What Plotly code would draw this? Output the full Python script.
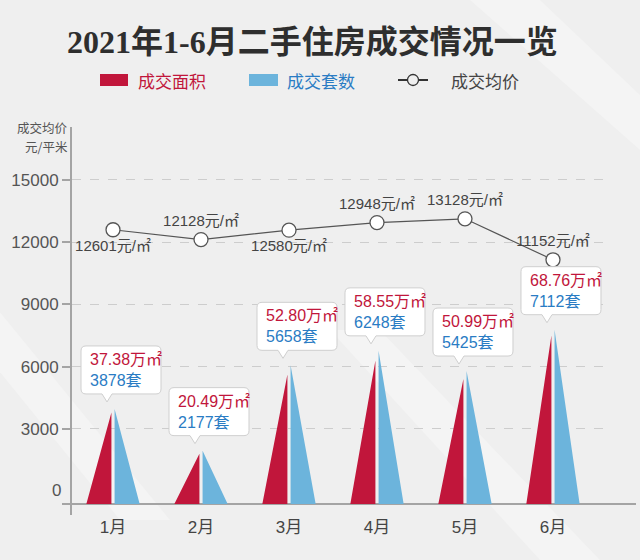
import plotly.graph_objects as go

# ---------------- data ----------------
months = ["1月", "2月", "3月", "4月", "5月", "6月"]
area = [37.38, 20.49, 52.80, 58.55, 50.99, 68.76]        # 成交面积 (万㎡)
units = [3878, 2177, 5658, 6248, 5425, 7112]             # 成交套数 (套)
price = [12601, 12128, 12580, 12948, 13128, 11152]       # 成交均价 (元/㎡)
price_text_pos = ["bottom center", "top center", "bottom center",
                  "top center", "top center", "top center"]
price_ticks = [3000, 6000, 9000, 12000, 15000]
series_names = ["成交面积", "成交套数", "成交均价"]
y_title_lines = ["成交均价", "元/平米"]

# ---------------- style ----------------
RED = "#c1163b"
BLUE = "#6cb4dc"
BLUE_TXT = "#2a7cc4"
GRAY_AX = "#a4a4a4"
LINE_C = "#555555"
BG = "#efefef"
FONT = "Liberation Sans, Noto Sans CJK SC, sans-serif"
CJK = "Noto Sans CJK SC, sans-serif"

W, H = 640, 560
L_M, R_M, T_M, B_M = 72, 30, 127, 45
PLOT_W = W - L_M - R_M
PLOT_H = H - T_M - B_M


def px2paper_x(px):
    return (px - L_M) / PLOT_W


def px2paper_y(py):
    return (H - B_M - py) / PLOT_H


x = list(range(len(months)))
TRI_W = 0.285
HALF_GAP = 0.018

red_x, red_y, blue_x, blue_y = [], [], [], []
for i, (a, u) in enumerate(zip(area, units)):
    red_x += [i - HALF_GAP - TRI_W, i - HALF_GAP, i - HALF_GAP, None]
    red_y += [0, 0, a, None]
    blue_x += [i + HALF_GAP, i + HALF_GAP + TRI_W, i + HALF_GAP, None]
    blue_y += [0, 0, u, None]

fig = go.Figure()
fig.add_trace(go.Scatter(
    x=red_x, y=red_y, yaxis="y3", fill="toself", fillcolor=RED,
    mode="lines", line=dict(width=0, color=RED), hoverinfo="skip",
    name=series_names[0], showlegend=False))
fig.add_trace(go.Scatter(
    x=blue_x, y=blue_y, yaxis="y2", fill="toself", fillcolor=BLUE,
    mode="lines", line=dict(width=0, color=BLUE), hoverinfo="skip",
    name=series_names[1], showlegend=False))
fig.add_trace(go.Scatter(
    x=x, y=price, yaxis="y", mode="lines+markers+text",
    line=dict(color=LINE_C, width=1.2),
    marker=dict(size=14, color="white", line=dict(color=LINE_C, width=1.3)),
    text=[f"{p}元/㎡" for p in price], textposition=price_text_pos,
    textfont=dict(size=15, color="#444444", family=FONT),
    name=series_names[2], showlegend=False))

# axis ranges (pixel-calibrated)
y1_range = [-1158, 17556]
y2_range = [-449, 15382]
y3_range = [v / 100 for v in y2_range]

shapes = []
annotations = []

# subtle background light streaks
streaks = [
    [(470, 0), (540, 0), (640, 95), (640, 150)],
    [(-10, 300), (-10, 360), (120, 520), (170, 520)],
    [(330, 330), (380, 330), (600, 560), (540, 560)],
]
for poly in streaks:
    pts = [(px2paper_x(a), px2paper_y(b)) for a, b in poly]
    p = "M" + " L".join(f"{a:.4f},{b:.4f}" for a, b in pts) + " Z"
    shapes.append(dict(type="path", xref="paper", yref="paper", path=p,
                       fillcolor="rgba(255,255,255,0.3)", line=dict(width=0),
                       layer="below"))

# callout boxes (pixel-sized shapes anchored at blue apex)
BOX_L, BOX_W, BOX_B, BOX_H, RAD = -32, 80, 15, 48, 5
TAIL_X, TAIL_TIP = -6, 7
for i, (a, u) in enumerate(zip(area, units)):
    L, R, B, T = BOX_L, BOX_L + BOX_W, BOX_B, BOX_B + BOX_H
    r = RAD
    path = (f"M{L+r},{B} L{TAIL_X-5},{B} L{TAIL_X},{TAIL_TIP} L{TAIL_X+5},{B} "
            f"L{R-r},{B} Q{R},{B} {R},{B+r} L{R},{T-r} Q{R},{T} {R-r},{T} "
            f"L{L+r},{T} Q{L},{T} {L},{T-r} L{L},{B+r} Q{L},{B} {L+r},{B} Z")
    shapes.append(dict(type="path", xref="x", yref="y2",
                       xsizemode="pixel", ysizemode="pixel",
                       xanchor=i, yanchor=u, path=path,
                       fillcolor="white", line=dict(color="#cfcfcf", width=1),
                       layer="above"))
    annotations.append(dict(
        x=i, y=u, xref="x", yref="y2", xanchor="left", yanchor="middle",
        xshift=BOX_L + 7, yshift=BOX_B + BOX_H / 2, showarrow=False, align="left",
        text=(f'<span style="color:{RED}">{a:.2f}万㎡</span><br>'
              f'<span style="color:{BLUE_TXT}">{u}套</span>'),
        font=dict(size=16, family=FONT)))

# baseline (x axis line) extending past the plot area
shapes.append(dict(type="line", xref="paper", yref="y2",
                   x0=px2paper_x(62), x1=px2paper_x(636), y0=0, y1=0,
                   line=dict(color=GRAY_AX, width=2), layer="below"))

# "0" label of the price axis (no tick / grid line in the reference)
annotations.append(dict(xref="paper", yref="y", x=px2paper_x(63), y=0,
                        xanchor="right", yanchor="middle", showarrow=False,
                        text="0", font=dict(size=17, color="#555555", family=FONT)))

# y-axis title (two separate lines)
for k, (txt, py) in enumerate(zip(y_title_lines, [127, 146])):
    annotations.append(dict(
        xref="paper", yref="paper", x=px2paper_x(69), y=px2paper_y(py),
        xanchor="right", yanchor="middle", showarrow=False, borderpad=0,
        text=txt, font=dict(size=12.5, color="#555555", family=CJK)))

# legend (drawn manually to match the original layout)
LEG_Y = 80
legend_colors = [RED, BLUE_TXT, "#444444"]
legend_sym = [(100, 128), (249, 278), (398, 428)]
legend_text_x = [136, 285, 449]
for k in range(2):
    x0, x1 = legend_sym[k]
    shapes.append(dict(type="rect", xref="paper", yref="paper",
                       x0=px2paper_x(x0), x1=px2paper_x(x1),
                       y0=px2paper_y(LEG_Y + 6), y1=px2paper_y(LEG_Y - 6),
                       fillcolor=[RED, BLUE][k], line=dict(width=0)))
x0, x1 = legend_sym[2]
shapes.append(dict(type="line", xref="paper", yref="paper",
                   x0=px2paper_x(x0), x1=px2paper_x(x1),
                   y0=px2paper_y(LEG_Y), y1=px2paper_y(LEG_Y),
                   line=dict(color="#333333", width=2)))
cx = (x0 + x1) / 2
shapes.append(dict(type="circle", xref="paper", yref="paper",
                   x0=px2paper_x(cx - 5.5), x1=px2paper_x(cx + 5.5),
                   y0=px2paper_y(LEG_Y + 5.5), y1=px2paper_y(LEG_Y - 5.5),
                   fillcolor=BG, line=dict(color="#333333", width=1.3)))
for k, name in enumerate(series_names):
    annotations.append(dict(xref="paper", yref="paper",
                            x=px2paper_x(legend_text_x[k]), y=px2paper_y(LEG_Y),
                            xanchor="left", yanchor="middle", showarrow=False,
                            text=name,
                            font=dict(size=17, color=legend_colors[k], family=CJK)))

fig.update_layout(
    width=W, height=H,
    margin=dict(l=L_M, r=R_M, t=T_M, b=B_M),
    paper_bgcolor=BG, plot_bgcolor="rgba(0,0,0,0)",
    title=dict(text="<b>2021年1-6月二手住房成交情况一览</b>",
               x=0.488, xanchor="center", y=1 - 42 / H, yanchor="middle",
               yref="container",
               font=dict(size=32, color="#2e2e2e",
                         family="Liberation Serif, Noto Sans CJK SC, serif")),
    showlegend=False,
    xaxis=dict(range=[-0.466, 5.648], tickvals=x, ticktext=months,
               showline=False, showgrid=False, zeroline=False, ticks="",
               tickfont=dict(size=17, color="#444444", family=FONT)),
    yaxis=dict(range=y1_range, tickvals=price_ticks,
               ticktext=[str(v) for v in price_ticks], showgrid=True,
               gridcolor="#cdcdcd", griddash="dash", gridwidth=1,
               showline=True, linecolor=GRAY_AX, linewidth=2,
               ticks="outside", ticklen=8, tickwidth=2, tickcolor=GRAY_AX,
               zeroline=False,
               tickfont=dict(size=17, color="#555555", family=FONT)),
    yaxis2=dict(range=y2_range, overlaying="y", visible=False),
    yaxis3=dict(range=y3_range, overlaying="y", visible=False),
    shapes=shapes, annotations=annotations,
)

fig.write_html("out.html")
